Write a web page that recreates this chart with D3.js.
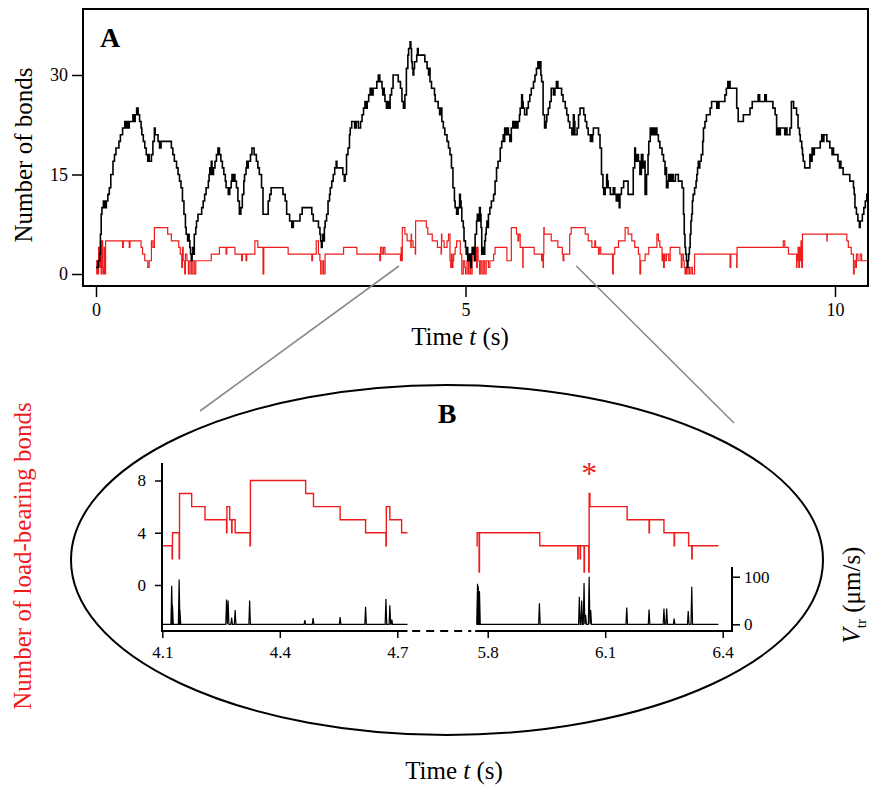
<!DOCTYPE html>
<html>
<head>
<meta charset="utf-8">
<script src="https://cdn.jsdelivr.net/npm/d3@7"></script>
<style>
  body { margin: 0; background: #fff; }
  svg, svg text { font-family: "Liberation Serif", "Times New Roman", serif; }
  svg { display: block; }
  .axis path.domain { display: none; }
  .axis line { stroke: #000; stroke-width: 1.5; }
  .axis text { fill: #000; }
</style>
</head>
<body>
<svg></svg>
<script>
// ---- panel A: number of bonds (black) and load-bearing bonds (red), [t (s), n]
var bondSeries = [[0,1],[0.03,2],[0.05,3],[0.06,6],[0.07,9],[0.08,10],[0.10,11],[0.11,10],[0.12,11],[0.13,10],[0.14,11],[0.16,12],[0.18,13],[0.20,15],[0.23,17],[0.25,18],[0.27,19],[0.31,20],[0.33,21],[0.36,22],[0.39,23],[0.41,22],[0.42,23],[0.44,22],[0.45,23],[0.50,24],[0.52,23],[0.53,24],[0.55,25],[0.57,24],[0.59,23],[0.61,22],[0.62,21],[0.64,20],[0.66,19],[0.68,18],[0.70,17],[0.71,18],[0.72,17],[0.75,18],[0.77,20],[0.79,22],[0.80,21],[0.84,20],[0.86,19],[0.88,20],[1.00,20],[1.02,19],[1.04,18],[1.06,17],[1.09,16],[1.11,15],[1.13,14],[1.15,13],[1.17,11],[1.19,9],[1.21,7],[1.22,6],[1.24,5],[1.25,6],[1.26,5],[1.27,4],[1.28,3],[1.29,2],[1.30,3],[1.31,4],[1.32,3],[1.33,6],[1.35,7],[1.36,8],[1.38,9],[1.43,10],[1.45,11],[1.47,12],[1.49,13],[1.52,14],[1.53,15],[1.54,16],[1.55,15],[1.56,17],[1.57,15],[1.59,16],[1.61,17],[1.63,18],[1.65,19],[1.67,18],[1.69,17],[1.71,16],[1.73,15],[1.75,14],[1.76,13],[1.79,12],[1.81,13],[1.83,14],[1.84,15],[1.85,14],[1.86,15],[1.88,14],[1.90,13],[1.92,11],[1.94,9],[1.96,10],[1.98,12],[2.00,14],[2.01,15],[2.03,16],[2.04,17],[2.05,16],[2.06,17],[2.09,18],[2.11,19],[2.14,18],[2.17,17],[2.19,16],[2.21,15],[2.24,13],[2.26,9],[2.31,9],[2.33,11],[2.35,12],[2.37,13],[2.53,12],[2.56,11],[2.58,9],[2.62,8],[2.65,7],[2.67,8],[2.76,9],[2.79,10],[2.90,10],[2.92,9],[2.94,8],[3.01,7],[3.03,6],[3.04,5],[3.05,4],[3.06,5],[3.07,6],[3.08,5],[3.09,7],[3.10,8],[3.12,9],[3.14,11],[3.16,12],[3.17,13],[3.19,14],[3.21,15],[3.23,16],[3.25,17],[3.26,16],[3.34,15],[3.36,14],[3.37,15],[3.39,18],[3.41,19],[3.43,21],[3.44,22],[3.46,23],[3.50,22],[3.52,23],[3.55,22],[3.58,23],[3.60,24],[3.62,25],[3.64,26],[3.66,25],[3.67,26],[3.69,27],[3.71,28],[3.73,27],[3.75,28],[3.80,29],[3.82,30],[3.84,29],[3.87,28],[3.88,27],[3.89,28],[3.90,27],[3.91,26],[3.93,25],[3.95,26],[3.96,25],[3.98,27],[4.00,28],[4.02,30],[4.09,29],[4.12,28],[4.14,26],[4.16,25],[4.18,27],[4.20,31],[4.22,33],[4.23,34],[4.25,35],[4.26,34],[4.27,32],[4.28,31],[4.29,30],[4.30,31],[4.31,32],[4.34,33],[4.35,34],[4.36,33],[4.45,32],[4.48,31],[4.50,30],[4.51,31],[4.52,29],[4.54,28],[4.58,27],[4.59,26],[4.63,25],[4.65,24],[4.66,25],[4.68,23],[4.70,22],[4.72,21],[4.75,20],[4.77,19],[4.79,18],[4.81,16],[4.83,13],[4.85,11],[4.86,10],[4.88,9],[4.90,10],[4.92,12],[4.93,11],[4.94,10],[4.95,8],[4.97,7],[4.98,5],[5.00,4],[5.01,3],[5.02,4],[5.03,2],[5.05,3],[5.06,2],[5.07,1],[5.08,3],[5.09,4],[5.10,3],[5.11,4],[5.12,2],[5.13,6],[5.15,8],[5.16,9],[5.17,8],[5.19,10],[5.20,9],[5.21,7],[5.22,3],[5.23,4],[5.24,3],[5.26,5],[5.27,6],[5.28,7],[5.29,8],[5.30,7],[5.31,9],[5.33,10],[5.35,11],[5.38,12],[5.40,14],[5.42,16],[5.44,17],[5.47,19],[5.49,20],[5.51,21],[5.52,20],[5.53,22],[5.55,21],[5.56,22],[5.58,21],[5.60,20],[5.62,22],[5.64,23],[5.66,22],[5.67,23],[5.69,22],[5.71,23],[5.73,24],[5.74,25],[5.76,27],[5.77,26],[5.78,25],[5.80,24],[5.83,25],[5.85,26],[5.87,27],[5.89,28],[5.92,29],[5.94,30],[5.96,31],[5.98,32],[6.00,31],[6.01,32],[6.02,30],[6.03,29],[6.05,24],[6.07,22],[6.09,23],[6.10,24],[6.12,25],[6.14,26],[6.16,28],[6.19,27],[6.21,28],[6.23,29],[6.25,28],[6.30,27],[6.32,26],[6.35,25],[6.37,24],[6.39,23],[6.41,22],[6.44,21],[6.46,24],[6.47,23],[6.48,21],[6.51,22],[6.53,24],[6.55,25],[6.60,24],[6.62,23],[6.64,22],[6.66,21],[6.69,20],[6.70,21],[6.71,20],[6.72,21],[6.73,22],[6.80,21],[6.82,19],[6.84,15],[6.86,13],[6.87,12],[6.89,13],[6.91,15],[6.92,14],[6.93,13],[6.96,12],[7.00,13],[7.02,12],[7.04,11],[7.05,12],[7.07,11],[7.08,10],[7.09,12],[7.11,13],[7.14,14],[7.20,12],[7.27,16],[7.29,19],[7.30,18],[7.31,17],[7.33,18],[7.34,17],[7.36,15],[7.38,18],[7.40,16],[7.41,17],[7.43,12],[7.45,15],[7.47,18],[7.48,20],[7.50,22],[7.52,21],[7.54,22],[7.55,21],[7.57,22],[7.59,21],[7.61,20],[7.63,19],[7.66,18],[7.68,17],[7.70,15],[7.71,16],[7.72,13],[7.74,14],[7.75,15],[7.77,14],[7.79,15],[7.81,14],[7.84,15],[7.88,14],[7.93,13],[7.95,9],[7.96,6],[7.97,4],[7.98,3],[7.99,2],[8.00,1],[8.01,2],[8.02,3],[8.03,4],[8.04,6],[8.05,8],[8.06,9],[8.07,11],[8.08,12],[8.10,13],[8.12,14],[8.13,15],[8.14,16],[8.15,17],[8.16,16],[8.17,17],[8.19,18],[8.21,20],[8.22,22],[8.24,23],[8.26,24],[8.31,25],[8.33,26],[8.40,25],[8.41,26],[8.42,25],[8.43,26],[8.51,27],[8.53,28],[8.55,29],[8.56,28],[8.57,29],[8.58,28],[8.67,25],[8.69,23],[8.76,24],[8.85,25],[8.88,26],[8.96,27],[8.98,26],[9.05,27],[9.07,26],[9.16,25],[9.19,24],[9.21,21],[9.23,22],[9.25,21],[9.26,22],[9.32,21],[9.33,22],[9.35,21],[9.39,22],[9.41,26],[9.44,25],[9.48,24],[9.50,22],[9.52,21],[9.53,20],[9.55,19],[9.56,18],[9.57,17],[9.59,16],[9.66,18],[9.68,17],[9.69,19],[9.71,18],[9.72,19],[9.80,20],[9.82,21],[9.84,20],[9.85,21],[9.89,20],[9.93,19],[9.96,18],[9.97,19],[9.98,18],[10.04,17],[10.06,16],[10.07,17],[10.08,16],[10.11,15],[10.20,14],[10.25,13],[10.26,12],[10.27,10],[10.29,9],[10.31,8],[10.33,7],[10.34,8],[10.37,9],[10.39,10],[10.41,11],[10.43,12],[10.46,13]];

var loadSeries = [[0,2],[0.01,0],[0.02,2],[0.03,0],[0.035,4],[0.05,1],[0.06,5],[0.07,0],[0.08,5],[0.09,1],[0.10,0],[0.11,4],[0.12,0],[0.13,5],[0.36,4],[0.37,5],[0.45,4],[0.46,5],[0.61,4],[0.63,3],[0.66,2],[0.70,1],[0.72,2],[0.75,5],[0.77,4],[0.79,7],[0.97,6],[1.02,5],[1.12,4],[1.14,3],[1.16,1],[1.17,4],[1.18,2],[1.20,0],[1.21,3],[1.23,2],[1.25,0],[1.27,2],[1.29,0],[1.31,2],[1.33,0],[1.35,2],[1.56,3],[1.67,4],[1.76,3],[1.77,4],[1.88,3],[1.97,2],[1.98,3],[2.03,2],[2.04,3],[2.15,5],[2.19,4],[2.26,0],[2.27,4],[2.60,3],[2.92,2],[2.93,3],[2.98,5],[3.01,3],[3.03,2],[3.04,0],[3.06,2],[3.08,0],[3.10,3],[3.35,4],[3.53,3],[3.84,2],[3.85,4],[3.87,3],[3.89,4],[3.91,3],[4.12,2],[4.13,4],[4.14,2],[4.145,7],[4.18,6],[4.21,5],[4.26,4],[4.265,6],[4.27,5],[4.29,4],[4.32,3],[4.325,8],[4.47,7],[4.49,6],[4.55,5],[4.62,4],[4.67,3],[4.675,6],[4.68,5],[4.71,4],[4.75,5],[4.77,6],[4.79,2],[4.80,1],[4.81,3],[4.82,1],[4.83,2],[4.84,3],[4.86,4],[4.88,5],[4.93,3],[4.95,0],[4.97,2],[4.99,1],[5.00,0],[5.02,2],[5.04,0],[5.06,2],[5.07,0],[5.09,3],[5.11,4],[5.15,1],[5.16,4],[5.17,2],[5.19,0],[5.20,2],[5.22,0],[5.24,2],[5.26,0],[5.28,2],[5.31,1],[5.33,2],[5.38,3],[5.40,4],[5.56,2],[5.62,7],[5.69,6],[5.71,5],[5.72,6],[5.74,4],[5.775,1],[5.78,4],[5.93,3],[6.03,2],[6.04,3],[6.05,1],[6.055,3],[6.06,7],[6.065,6],[6.16,5],[6.25,4],[6.31,3],[6.32,2],[6.33,3],[6.41,6],[6.43,7],[6.62,6],[6.66,5],[6.71,4],[6.75,5],[6.76,4],[6.80,3],[6.81,4],[6.83,3],[6.99,0],[7.00,3],[7.02,4],[7.07,5],[7.16,7],[7.20,6],[7.25,5],[7.29,4],[7.34,3],[7.36,0],[7.37,2],[7.43,3],[7.48,4],[7.59,6],[7.61,5],[7.63,4],[7.66,2],[7.67,3],[7.68,1],[7.69,3],[7.70,2],[7.72,3],[7.75,2],[7.77,4],[7.90,3],[7.92,1],[7.93,3],[7.95,2],[7.96,1],[7.97,0],[7.98,1],[7.99,0],[8.01,1],[8.03,0],[8.05,1],[8.07,0],[8.10,3],[8.58,1],[8.59,3],[8.67,1],[8.675,4],[9.30,5],[9.32,4],[9.37,3],[9.48,1],[9.485,3],[9.49,2],[9.50,4],[9.51,1],[9.52,4],[9.53,2],[9.54,5],[9.55,1],[9.56,6],[9.89,5],[9.895,6],[10.16,5],[10.18,4],[10.22,3],[10.25,0],[10.26,2],[10.28,1],[10.29,3],[10.31,2],[10.34,3],[10.36,2],[10.46,2]];

var topTimeTicks = [0, 5, 10];
var topBondTicks = [0, 15, 30];
var zoomWindow = [4.1, 6.5];

// ---- panel B: two zoomed windows
var leftLoadT = [4.100, 4.125, 4.126, 4.143, 4.144, 4.175, 4.209, 4.264, 4.265, 4.272, 4.277, 4.278, 4.286, 4.324, 4.325, 4.466, 4.486, 4.554, 4.619, 4.671, 4.672, 4.681, 4.711, 4.726];
var leftLoadN = [3, 2, 4, 2, 7, 6, 5, 4, 6, 5, 4, 5, 4, 3, 8, 7, 6, 5, 4, 3, 6, 5, 4, 4];
var rightLoadT = [5.771, 5.773, 5.778, 5.779, 5.933, 6.030, 6.031, 6.036, 6.037, 6.046, 6.047, 6.058, 6.059, 6.061, 6.156, 6.212, 6.213, 6.250, 6.276, 6.277, 6.313, 6.321, 6.322, 6.389];
var rightLoadN = [3, 4, 1, 4, 3, 2, 3, 2, 3, 1, 3, 1, 7, 6, 5, 4, 5, 4, 3, 4, 3, 2, 3, 3];

// velocity spikes V_tr (um/s)
var leftSpikeT = [4.124, 4.126, 4.143, 4.145, 4.264, 4.268, 4.277, 4.286, 4.323, 4.464, 4.485, 4.554, 4.619, 4.671, 4.681, 4.686];
var leftSpikeV = [81, 40, 94, 30, 52, 50, 14, 30, 50, 9, 13, 15, 37, 53, 40, 10];
var rightSpikeT = [5.774, 5.776, 5.779, 5.932, 6.034, 6.040, 6.046, 6.050, 6.059, 6.063, 6.155, 6.212, 6.250, 6.257, 6.276, 6.312, 6.321];
var rightSpikeV = [85, 80, 70, 44, 58, 50, 87, 20, 100, 30, 35, 31, 33, 33, 12, 28, 79];

var leftTimeTicks = [4.1, 4.4, 4.7];
var rightTimeTicks = [5.8, 6.1, 6.4];
var loadTicks = [0, 4, 8];
var velocityTicks = [0, 100];

var red = "#ee1c1c";
var serif = "Liberation Serif";
var svg = d3.select("svg").attr("width", 869).attr("height", 788);

// ================= panel A =================
var x = d3.scaleLinear().domain([0, 10]).range([96, 835]);
var y = d3.scaleLinear().domain([0, 30]).range([274, 75]);

svg.append("clipPath").attr("id", "clipA")
  .append("rect").attr("x", 84).attr("y", 10).attr("width", 783).attr("height", 275);

var stepLine = d3.line()
  .x(function(d) { return x(d[0]); })
  .y(function(d) { return y(d[1]); })
  .curve(d3.curveStepAfter);

var gA = svg.append("g").attr("clip-path", "url(#clipA)");
gA.append("path").datum(loadSeries)
  .attr("d", stepLine).attr("fill", "none").attr("stroke", red).attr("stroke-width", 1.2);
gA.append("path").datum(bondSeries)
  .attr("d", stepLine).attr("fill", "none").attr("stroke", "#000").attr("stroke-width", 1.6);

svg.append("rect").attr("x", 83).attr("y", 9).attr("width", 785).attr("height", 277)
  .attr("fill", "none").attr("stroke", "#000").attr("stroke-width", 2);

svg.append("g").attr("class", "axis").attr("transform", "translate(83,0)")
  .call(d3.axisLeft(y).tickValues(topBondTicks).tickSize(11).tickPadding(4).tickSizeOuter(0))
  .attr("font-family", serif).attr("font-size", 18);

svg.append("g").attr("class", "axis").attr("transform", "translate(0,287)")
  .call(d3.axisBottom(x).tickValues(topTimeTicks).tickSize(10).tickPadding(6).tickSizeOuter(0))
  .attr("font-family", serif).attr("font-size", 18);

svg.append("text").attr("x", 100).attr("y", 47)
  .style("font-size", "28px").style("font-weight", "bold").text("A");

svg.append("text").attr("transform", "translate(32,155) rotate(-90)")
  .attr("text-anchor", "middle").style("font-size", "25px").text("Number of bonds");

var tA = svg.append("text").attr("x", 460).attr("y", 345).attr("text-anchor", "middle").style("font-size", "25px");
tA.append("tspan").text("Time ");
tA.append("tspan").style("font-style", "italic").text("t");
tA.append("tspan").text(" (s)");

// ================= zoom connectors + ellipse =================
svg.append("line").attr("x1", x(zoomWindow[0])).attr("y1", 266).attr("x2", 200).attr("y2", 411)
  .attr("stroke", "#8a8a8a").attr("stroke-width", 1.6);
svg.append("line").attr("x1", x(zoomWindow[1])).attr("y1", 266).attr("x2", 734).attr("y2", 423)
  .attr("stroke", "#8a8a8a").attr("stroke-width", 1.6);

svg.append("ellipse").attr("cx", 447).attr("cy", 560).attr("rx", 376).attr("ry", 175)
  .attr("fill", "none").attr("stroke", "#000").attr("stroke-width", 2);

svg.append("text").attr("x", 447).attr("y", 423).attr("text-anchor", "middle")
  .style("font-size", "28px").style("font-weight", "bold").text("B");

// ================= panel B =================
var xL = d3.scaleLinear().domain([4.1, 4.7]).range([162.3, 397.3]);
var xR = d3.scaleLinear().domain([5.8, 6.4]).range([487.7, 722.7]);
var yN = d3.scaleLinear().domain([0, 8]).range([585, 480.5]);
var yV = d3.scaleLinear().domain([0, 100]).range([624.3, 576.7]);

function drawWindow(xs, lt, ln, st, sv, axisFrom, axisTo, ticks) {
  var pts = lt.map(function(t, i) { return [t, ln[i]]; });
  svg.append("path").datum(pts)
    .attr("d", d3.line().x(function(d) { return xs(d[0]); }).y(function(d) { return yN(d[1]); }).curve(d3.curveStepAfter))
    .attr("fill", "none").attr("stroke", red).attr("stroke-width", 1.4);

  // velocity trace: baseline with narrow spikes
  var t0 = lt[0], t1 = lt[lt.length - 1];
  var v = [[t0, 0]];
  st.forEach(function(t, i) {
    v.push([t - 0.002, 0], [t, sv[i]], [t + 0.002, 0]);
  });
  v.push([t1, 0]);
  svg.append("path").datum(v)
    .attr("d", d3.line().x(function(d) { return xs(d[0]); }).y(function(d) { return yV(d[1]); }))
    .attr("fill", "none").attr("stroke", "#000").attr("stroke-width", 1.2);

  svg.append("line").attr("x1", xs(axisFrom)).attr("x2", xs(axisTo)).attr("y1", 631).attr("y2", 631)
    .attr("stroke", "#000").attr("stroke-width", 2);
  var ax = svg.append("g").attr("class", "axis").attr("transform", "translate(0,631)")
    .call(d3.axisBottom(xs).tickValues(ticks).tickSize(7).tickPadding(8).tickSizeOuter(0).tickFormat(d3.format(".1f")))
    .attr("font-family", serif).attr("font-size", 17);
  ax.selectAll("line").attr("stroke-width", 1);
}

drawWindow(xL, leftLoadT, leftLoadN, leftSpikeT, leftSpikeV, 4.1, 4.726, leftTimeTicks);
drawWindow(xR, rightLoadT, rightLoadN, rightSpikeT, rightSpikeV, 5.768, 6.424, rightTimeTicks);

// broken axis between the windows
svg.append("line").attr("x1", xL(4.738)).attr("x2", xR(5.758)).attr("y1", 631).attr("y2", 631)
  .attr("stroke", "#000").attr("stroke-width", 2).attr("stroke-dasharray", "8,6");

// left axis: load-bearing bonds
svg.append("line").attr("x1", 162).attr("x2", 162).attr("y1", 463).attr("y2", 632)
  .attr("stroke", "#000").attr("stroke-width", 2);
var axN = svg.append("g").attr("class", "axis").attr("transform", "translate(162,0)")
  .call(d3.axisLeft(yN).tickValues(loadTicks).tickSize(7).tickPadding(9).tickSizeOuter(0))
  .attr("font-family", serif).attr("font-size", 17);
axN.selectAll("line").attr("stroke-width", 1);

// right axis: velocity
svg.append("line").attr("x1", 732).attr("x2", 732).attr("y1", 567).attr("y2", 632)
  .attr("stroke", "#000").attr("stroke-width", 2);
var axV = svg.append("g").attr("class", "axis").attr("transform", "translate(732,0)")
  .call(d3.axisRight(yV).tickValues(velocityTicks).tickSize(8).tickPadding(4).tickSizeOuter(0))
  .attr("font-family", serif).attr("font-size", 17);
axV.selectAll("line").attr("stroke-width", 1);

// asterisk over the jump
svg.append("text").attr("x", xR(6.059)).attr("y", 484).attr("text-anchor", "middle")
  .style("font-size", "32px").attr("fill", red).text("*");

svg.append("text").attr("transform", "translate(31,556) rotate(-90)")
  .attr("text-anchor", "middle").attr("fill", red).style("font-size", "25px")
  .text("Number of load-bearing bonds");

var tV = svg.append("text").attr("transform", "translate(860,595) rotate(-90)")
  .attr("text-anchor", "middle").style("font-size", "25px");
tV.append("tspan").style("font-style", "italic").text("V");
tV.append("tspan").attr("dy", 6).style("font-size", "15px").text("tr");
tV.append("tspan").attr("dy", -6).text(" (\u03bcm/s)");

var tB = svg.append("text").attr("x", 454).attr("y", 779).attr("text-anchor", "middle").style("font-size", "25px");
tB.append("tspan").text("Time ");
tB.append("tspan").style("font-style", "italic").text("t");
tB.append("tspan").text(" (s)");
</script>
</body>
</html>
